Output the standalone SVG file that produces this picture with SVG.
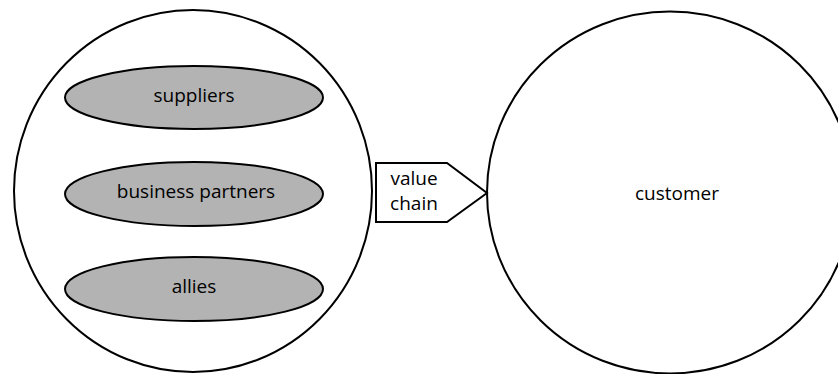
<svg xmlns="http://www.w3.org/2000/svg" width="838" height="374" viewBox="0 0 838 374">
  <style>
    .ring { fill: #ffffff; stroke: #000000; stroke-width: 2; }
    .member { fill: #b3b3b3; stroke: #000000; stroke-width: 2; }
    .arrow { fill: #ffffff; stroke: #000000; stroke-width: 2; }
    .label { font-family: "Open Sans", "Noto Sans", "DejaVu Sans", sans-serif; font-size: 19px; fill: #000000; text-anchor: middle; }
  </style>
  <rect width="838" height="374" fill="#ffffff"/>

  <!-- organisation circle with its member ellipses -->
  <g id="network">
    <ellipse class="ring" cx="193" cy="191" rx="179" ry="181"/>
  </g>
  <g id="suppliers">
    <ellipse class="member" cx="194" cy="97.5" rx="129" ry="31.5"/>
    <text class="label" x="194" y="102">suppliers</text>
  </g>
  <g id="business-partners">
    <ellipse class="member" cx="194" cy="194" rx="129" ry="32"/>
    <text class="label" x="196" y="198">business partners</text>
  </g>
  <g id="allies">
    <ellipse class="member" cx="194" cy="289" rx="129" ry="32"/>
    <text class="label" x="194" y="293">allies</text>
  </g>

  <!-- customer circle -->
  <g id="customer">
    <ellipse class="ring" cx="670" cy="192.5" rx="183" ry="181"/>
    <text class="label" x="677" y="200">customer</text>
  </g>

  <!-- value chain pointer -->
  <g id="connectors">
    <g id="value-chain">
      <polygon class="arrow" points="376,163 447,163 487,193 447,222 376,222"/>
      <text class="label" x="414" y="185">value</text>
      <text class="label" x="414" y="210">chain</text>
    </g>
  </g>
</svg>
